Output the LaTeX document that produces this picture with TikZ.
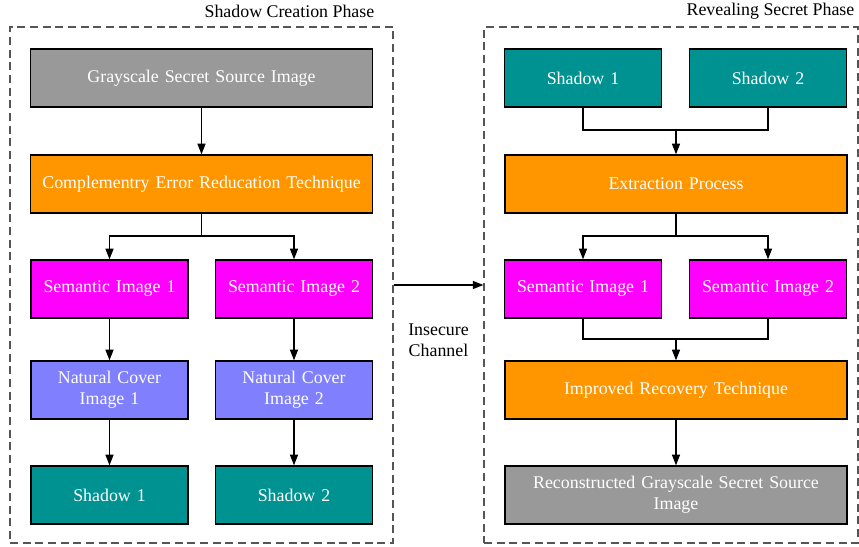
\documentclass[tikz,border=0pt]{standalone}
\usepackage{fontspec}
\setmainfont{Liberation Serif}
\usetikzlibrary{arrows.meta}
\definecolor{cgray}{HTML}{999999}
\definecolor{corange}{HTML}{FF9600}
\definecolor{cmag}{HTML}{FF00FF}
\definecolor{cblue}{HTML}{8080FF}
\definecolor{cteal}{HTML}{009191}
\definecolor{cdash}{HTML}{555555}
\tikzset{
  box/.style={draw=black, line width=1pt, text=white, align=center, inner sep=2pt,
    minimum height=43.5pt, font=\fontsize{13.4}{15.75}\selectfont},
  wide/.style={box, minimum width=256.5pt, text width=248pt},
  narrow/.style={box, minimum width=117.75pt, text width=112pt},
  phase/.style={draw=cdash, line width=0.8pt, dash pattern=on 6pt off 3.5pt, inner sep=0pt},
  lbl/.style={font=\fontsize{13.4}{15.75}\selectfont, align=center, text=black},
  ln/.style={line width=1pt, black},
  arr/.style={ln, -{Triangle[length=8pt,width=6pt]}}
}
\begin{document}
\begin{tikzpicture}[x=0.75pt,y=-0.75pt]
\useasboundingbox (0,0) rectangle (859,546);
% phase frames
\node[phase, minimum width=287.25pt, minimum height=387pt] (lphase) at (201.5,285) {};
\node[phase, minimum width=280.5pt, minimum height=387pt] (rphase) at (671,285) {};
\node[lbl, anchor=east] (ltitle) at (379,11) {Shadow Creation Phase};
\node[lbl, anchor=east] (rtitle) at (859,11) {Revealing Secret Phase};
% left column
\node[wide, fill=cgray] (L1) at (201.5,78) {Grayscale Secret Source Image};
\node[wide, fill=corange] (L2) at (201.5,184) {Complementry Error Reducation Technique};
\node[narrow, fill=cmag] (L3a) at (109.5,289) {Semantic Image 1};
\node[narrow, fill=cmag] (L3b) at (294,289) {Semantic Image 2};
\node[narrow, fill=cblue] (L4a) at (109.5,390) {Natural Cover\\Image 1};
\node[narrow, fill=cblue] (L4b) at (294,390) {Natural Cover\\Image 2};
\node[narrow, fill=cteal] (L5a) at (109.5,495) {Shadow 1};
\node[narrow, fill=cteal] (L5b) at (294,495) {Shadow 2};
% right column
\node[narrow, fill=cteal] (R1a) at (583,78) {Shadow 1};
\node[narrow, fill=cteal] (R1b) at (768,78) {Shadow 2};
\node[wide, fill=corange] (R2) at (676,184) {Extraction Process};
\node[narrow, fill=cmag] (R3a) at (583,289) {Semantic Image 1};
\node[narrow, fill=cmag] (R3b) at (768,289) {Semantic Image 2};
\node[wide, fill=corange] (R4) at (676,390) {Improved Recovery Technique};
\node[wide, fill=cgray] (R5) at (676,495) {Reconstructed Grayscale Secret Source\\Image};
% channel
\node[lbl] (chan) at (438.5,340) {Insecure\\Channel};
\draw[arr] (lphase.east) -- (rphase.west);
% left connectors
\draw[arr] (L1) -- (L2);
\coordinate (j1) at (201.5,236);
\draw[ln] (L2.south) -- (j1);
\draw[arr] (j1) -| (L3a.north);
\draw[arr] (j1) -| (L3b.north);
\draw[arr] (L3a) -- (L4a);
\draw[arr] (L3b) -- (L4b);
\draw[arr] (L4a) -- (L5a);
\draw[arr] (L4b) -- (L5b);
% right connectors
\coordinate (m1) at (676,130);
\draw[ln] (R1a.south) |- (m1) -| (R1b.south);
\draw[arr] (m1) -- (R2.north);
\coordinate (j2) at (676,236);
\draw[ln] (R2.south) -- (j2);
\draw[arr] (j2) -| (R3a.north);
\draw[arr] (j2) -| (R3b.north);
\coordinate (m2) at (676,339);
\draw[ln] (R3a.south) |- (m2) -| (R3b.south);
\draw[arr] (m2) -- (R4.north);
\draw[arr] (R4) -- (R5);
\end{tikzpicture}
\end{document}
